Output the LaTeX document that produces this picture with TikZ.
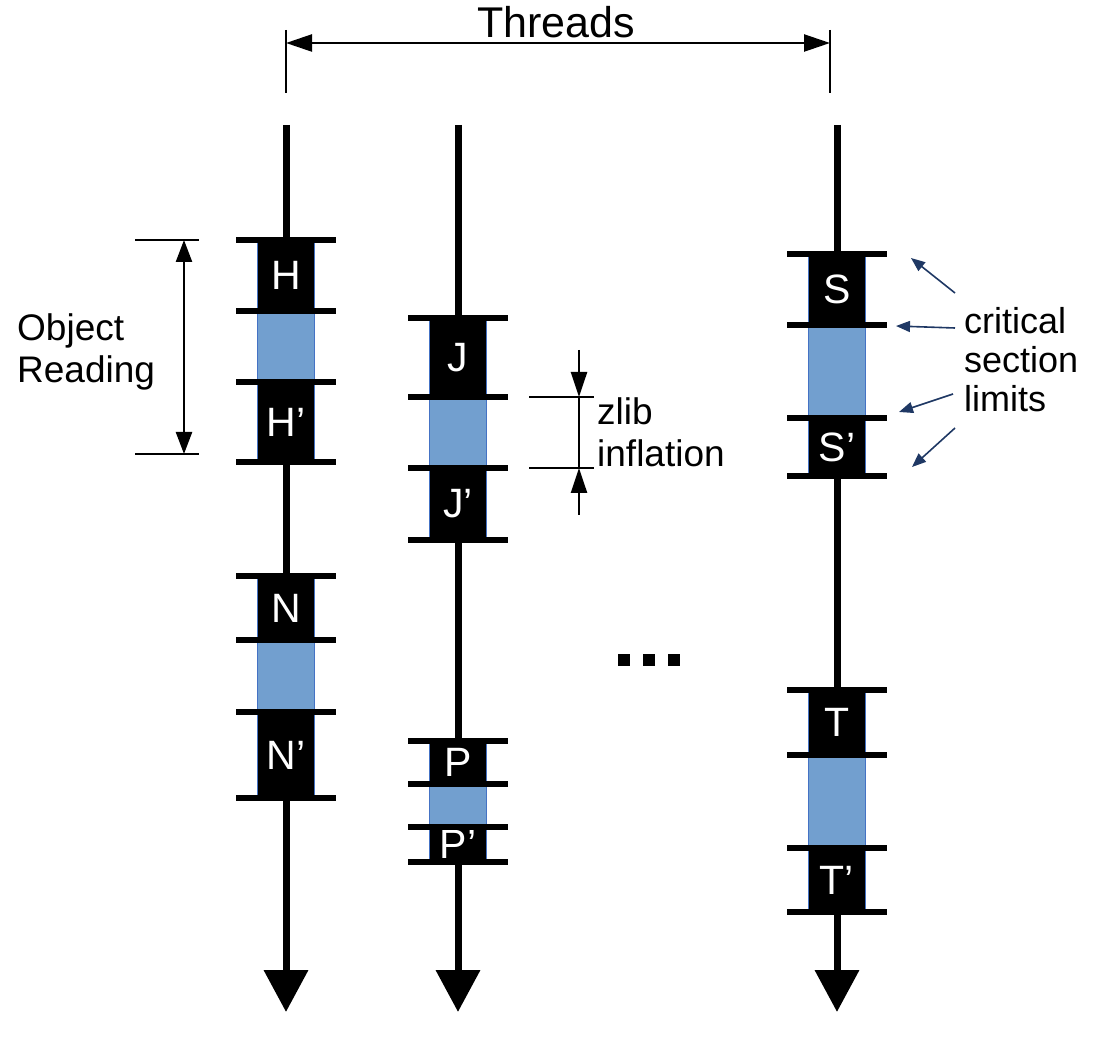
\documentclass[tikz,border=0pt]{standalone}
\usepackage{fontspec}
\setmainfont{Liberation Sans}
\usetikzlibrary{arrows.meta}
\definecolor{critblue}{RGB}{114,159,207}
\definecolor{edgeblue}{RGB}{68,114,196}
\definecolor{navy}{RGB}{31,56,100}
\tikzset{
  blk/.style={fill=black, draw=edgeblue, line width=0.6pt, minimum width=57pt, inner sep=0pt, text=white, font=\fontsize{41}{44}\selectfont},
  crit/.style={fill=critblue, draw=edgeblue, line width=0.6pt, minimum width=57pt, inner sep=0pt},
  tickline/.style={line width=6pt},
  thread/.style={line width=7pt, -{Triangle[width=43pt,length=42pt]}},
  dimline/.style={line width=2.4pt},
  dimarrow/.style={line width=2.4pt},
  lbl/.style={font=\fontsize{37}{42}\selectfont, inner sep=0pt, align=left},
  clbl/.style={font=\fontsize{36}{39}\selectfont, inner sep=0pt, align=left},
  navyarrow/.style={draw=navy, line width=1.6pt, -{Triangle[width=11pt,length=14pt]}}
}
\newcommand\csblock[8]{%
  \pgfmathsetmacro\hA{#3-#2}\pgfmathsetmacro\hB{#4-#3}\pgfmathsetmacro\hC{#5-#4}%
  \node[blk, minimum height=\hA pt] (#8a) at (#1,{(#2+#3)/2}) {#6};
  \node[crit, minimum height=\hB pt] (#8c) at (#1,{(#3+#4)/2}) {};
  \node[blk, minimum height=\hC pt] (#8b) at (#1,{(#4+#5)/2}) {#7};
  \foreach \yy in {#2,#3,#4,#5} {\draw[tickline] (#1-50,\yy) -- (#1+50,\yy);}
}
\begin{document}
\begin{tikzpicture}[x=1pt,y=-1pt]
\useasboundingbox (0,0) rectangle (1096,1040);
% threads
\coordinate (t1s) at (286,125); \coordinate (t1e) at (286,1012);
\coordinate (t2s) at (458,125); \coordinate (t2e) at (458,1012);
\coordinate (t3s) at (837,125); \coordinate (t3e) at (837,1012);
\draw[thread] (t1s) -- (t1e);
\draw[thread] (t2s) -- (t2e);
\draw[thread] (t3s) -- (t3e);
% blocks
\csblock{286}{240}{311}{382}{462}{H}{H’}{h}
\csblock{286}{576}{640}{712}{798}{N}{N’}{n}
\csblock{458}{318}{397}{468}{540}{J}{J’}{j}
\csblock{458}{741}{784}{827}{862}{P}{P’}{p}
\csblock{837}{254}{325}{418}{476}{S}{S’}{s}
\csblock{837}{690}{755}{848}{912}{T}{T’}{t}
% Threads dimension
\coordinate (da1) at (286,30); \coordinate (da2) at (286,93);
\coordinate (db1) at (830,30); \coordinate (db2) at (830,93);
\coordinate (dl) at (286,43); \coordinate (dr) at (830,43);
\draw[dimline] (da1) -- (da2);
\draw[dimline] (db1) -- (db2);
\draw[dimarrow, {Triangle[width=17pt,length=26pt]}-{Triangle[width=17pt,length=26pt]}] (dl) -- (dr);
\node[font=\fontsize{43}{48}\selectfont, inner sep=0pt] (threads) at (556,22) {Threads};
% Object reading
\coordinate (o1a) at (135,240); \coordinate (o1b) at (199,240);
\coordinate (o2a) at (135,454); \coordinate (o2b) at (199,454);
\coordinate (oat) at (184,240); \coordinate (oab) at (184,454);
\draw[dimline] (o1a) -- (o1b);
\draw[dimline] (o2a) -- (o2b);
\draw[dimarrow, {Triangle[width=16pt,length=22pt]}-{Triangle[width=16pt,length=22pt]}] (oat) -- (oab);
\node[lbl, anchor=west] (objread) at (17,352) {Object\\Reading};
% zlib inflation
\coordinate (z1a) at (529,397); \coordinate (z1b) at (594,397);
\coordinate (z2a) at (529,468); \coordinate (z2b) at (594,468);
\coordinate (zt) at (579,350); \coordinate (zm1) at (579,397);
\coordinate (zb) at (579,515); \coordinate (zm2) at (579,468);
\draw[dimline] (z1a) -- (z1b);
\draw[dimline] (z2a) -- (z2b);
\draw[dimarrow, -{Triangle[width=16pt,length=25pt]}] (zt) -- (zm1);
\draw[dimarrow, -{Triangle[width=16pt,length=25pt]}] (zb) -- (zm2);
\draw[dimline] (zm1) -- (zm2);
\node[lbl, anchor=west] (zlib) at (597,432) {zlib\\inflation};
% critical section limits
\node[clbl, anchor=west] (critlbl) at (964,360) {critical\\section\\limits};
\coordinate (c1s) at (955,293); \coordinate (c1e) at (911,258);
\coordinate (c2s) at (955,328); \coordinate (c2e) at (896,326);
\coordinate (c3s) at (953,394); \coordinate (c3e) at (899,412);
\coordinate (c4s) at (955,428); \coordinate (c4e) at (912,467);
\draw[navyarrow] (c1s) -- (c1e);
\draw[navyarrow] (c2s) -- (c2e);
\draw[navyarrow] (c3s) -- (c3e);
\draw[navyarrow] (c4s) -- (c4e);
% dots
\foreach \dx/\nm in {624/da,649/db,674/dc}{
  \node[fill=black, minimum size=12pt, inner sep=0pt] (\nm) at (\dx,660) {};
}
\end{tikzpicture}
\end{document}
